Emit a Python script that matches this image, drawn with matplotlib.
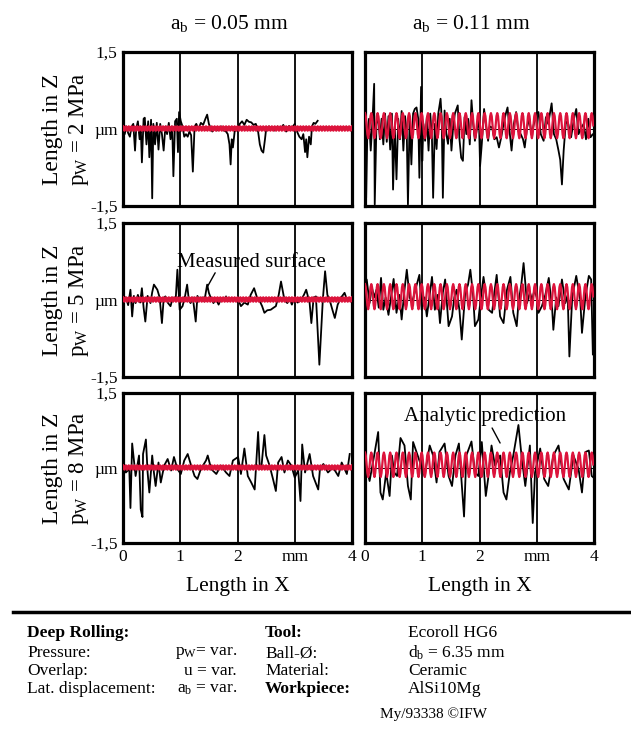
import numpy as np
import matplotlib
matplotlib.use("Agg")
import matplotlib.pyplot as plt
from matplotlib.lines import Line2D

plt.rcParams['font.family'] = ['Liberation Serif', 'DejaVu Serif']
plt.rcParams['mathtext.fontset'] = 'custom'
plt.rcParams['mathtext.rm'] = 'Liberation Serif'
plt.rcParams['mathtext.it'] = 'Liberation Serif:italic'

# ---- column / row settings
lat_disp = [0.05, 0.11]          # a_b in mm
pressures = [2, 5, 8]            # p_W in MPa

# ---- measured surface profiles (x in mm, z in um)
x_p2_a05 = [0.00, 0.03, 0.06, 0.09, 0.12, 0.15, 0.18, 0.21, 0.23, 0.26, 0.29, 0.31, 0.33, 0.36, 0.38,
            0.41, 0.44, 0.46, 0.49, 0.51, 0.53, 0.56, 0.59, 0.62, 0.65, 0.68, 0.71, 0.74, 0.77, 0.80,
            0.83, 0.86, 0.88, 0.91, 0.94, 0.96, 0.98, 1.01, 1.04, 1.07, 1.10, 1.13, 1.16, 1.19, 1.22,
            1.25, 1.28, 1.32, 1.36, 1.40, 1.44, 1.47, 1.50, 1.53, 1.56, 1.60, 1.64, 1.68, 1.72, 1.76,
            1.80, 1.83, 1.86, 1.88, 1.90, 1.92, 1.95, 2.00, 2.04, 2.08, 2.12, 2.16, 2.20, 2.24, 2.28,
            2.32, 2.36, 2.39, 2.42, 2.45, 2.48, 2.50, 2.55, 2.60, 2.65, 2.70, 2.75, 2.80, 2.85, 2.90,
            2.95, 3.00, 3.04, 3.08, 3.12, 3.15, 3.18, 3.20, 3.22, 3.25, 3.28, 3.30, 3.33, 3.36, 3.40]
z_p2_a05 = [-0.05, -0.10, 0.05, -0.08, -0.15, 0.05, 0.10, -0.42, 0.00, 0.15, -0.20, 0.05, -0.65, 0.20, 0.22,
            -0.30, 0.15, -0.55, 0.18, -1.35, 0.10, -0.30, 0.12, -0.40, 0.10, -0.10, -0.42, 0.05, -0.10, 0.12,
            -0.20, 0.05, -0.92, 0.15, 0.20, -0.45, 0.33, 0.15, 0.05, -0.15, -0.10, -0.15, -0.05, -0.12, -0.83,
            0.05, 0.10, 0.00, 0.12, 0.08, 0.20, 0.28, 0.10, 0.02, -0.05, 0.00, -0.03, 0.02, 0.05, -0.03,
            -0.05, -0.10, -0.30, -0.69, -0.20, -0.36, -0.05, 0.00, 0.10, 0.15, 0.08, 0.18, 0.14, 0.13, 0.08,
            0.10, -0.05, -0.30, -0.42, -0.46, -0.20, 0.00, 0.05, 0.02, -0.03, 0.05, 0.00, 0.08, -0.05, 0.06,
            0.02, 0.10, -0.05, -0.15, -0.20, -0.10, -0.45, -0.20, -0.55, -0.15, -0.30, 0.05, 0.12, 0.10, 0.16]

x_p2_a11 = [0.00, 0.02, 0.04, 0.07, 0.10, 0.13, 0.16, 0.17, 0.20, 0.23, 0.26, 0.29, 0.32, 0.35, 0.38,
            0.41, 0.44, 0.47, 0.49, 0.52, 0.55, 0.58, 0.61, 0.64, 0.67, 0.70, 0.73, 0.75, 0.78, 0.81,
            0.84, 0.87, 0.90, 0.93, 0.95, 0.98, 1.00, 1.02, 1.05, 1.08, 1.11, 1.14, 1.17, 1.19, 1.22,
            1.25, 1.28, 1.32, 1.34, 1.36, 1.39, 1.42, 1.45, 1.48, 1.51, 1.54, 1.57, 1.62, 1.65, 1.68,
            1.71, 1.74, 1.77, 1.80, 1.83, 1.86, 1.89, 1.92, 1.95, 1.99, 2.01, 2.04, 2.08, 2.11, 2.15,
            2.18, 2.22, 2.26, 2.30, 2.34, 2.38, 2.42, 2.46, 2.49, 2.53, 2.56, 2.60, 2.64, 2.68, 2.72,
            2.76, 2.79, 2.83, 2.87, 2.91, 2.95, 2.99, 3.03, 3.07, 3.12, 3.16, 3.20, 3.26, 3.30, 3.34,
            3.38, 3.41, 3.44, 3.47, 3.51, 3.55, 3.60, 3.65, 3.69, 3.73, 3.78, 3.82, 3.86, 3.90, 3.94,
            3.98, 4.00]
z_p2_a11 = [0.10, -1.34, -0.10, 0.20, -0.42, 0.15, 0.88, -1.47, 0.10, 0.25, -0.20, 0.20, -0.30, 0.30, -0.25,
            0.25, -0.40, 0.30, -1.18, 0.05, -0.98, 0.20, -0.20, 0.35, -0.42, 0.25, -0.10, -1.47, 0.20, -0.69,
            0.30, 0.39, 0.42, 0.20, -0.95, 0.82, -0.62, 0.10, -0.23, 0.23, -0.42, 0.30, -0.20, -1.34, 0.10,
            -0.39, 0.30, 0.59, 0.20, -1.34, 0.36, -0.10, -0.29, 0.20, -0.42, 0.05, 0.30, 0.46, -0.20, -0.56,
            -0.62, 0.23, -0.10, 0.20, -0.30, 0.56, 0.10, -0.23, -0.03, 0.20, -0.72, -0.29, 0.39, 0.10, -0.23,
            0.05, 0.03, -0.20, -0.16, -0.36, -0.16, 0.10, 0.30, 0.42, -0.10, -0.42, 0.10, 0.33, -0.05, -0.10,
            -0.20, -0.36, 0.03, 0.20, -0.10, 0.10, 0.30, 0.33, -0.10, -0.23, 0.23, 0.10, 0.50, -0.10, -0.20,
            -0.42, -0.60, -1.08, -0.42, 0.15, 0.10, -0.16, 0.20, 0.39, -0.10, 0.03, 0.10, -0.20, 0.20, -0.16,
            -0.10, -0.10]

x_p5_a05 = [0.00, 0.05, 0.09, 0.13, 0.16, 0.19, 0.22, 0.26, 0.30, 0.33, 0.36, 0.39, 0.43, 0.48, 0.51,
            0.54, 0.60, 0.64, 0.68, 0.71, 0.74, 0.78, 0.83, 0.87, 0.92, 0.95, 0.99, 1.04, 1.08, 1.12,
            1.15, 1.18, 1.22, 1.27, 1.30, 1.33, 1.38, 1.42, 1.47, 1.50, 1.53, 1.58, 1.62, 1.67, 1.71,
            1.76, 1.80, 1.84, 1.88, 1.94, 2.00, 2.06, 2.12, 2.18, 2.23, 2.29, 2.34, 2.38, 2.43, 2.47,
            2.52, 2.58, 2.63, 2.67, 2.72, 2.76, 2.82, 2.87, 2.91, 2.95, 2.99, 3.05, 3.11, 3.16, 3.20,
            3.26, 3.29, 3.33, 3.37, 3.43, 3.49, 3.53, 3.57, 3.61, 3.66, 3.70, 3.75, 3.81, 3.87, 3.92,
            3.96]
z_p5_a05 = [0.00, 0.05, -0.10, 0.20, -0.32, 0.08, -0.06, 0.10, -0.05, 0.23, -0.15, -0.42, 0.08, -0.06, 0.15,
            0.30, 0.20, 0.05, -0.45, 0.02, 0.07, -0.05, -0.12, 0.05, 0.00, 0.59, -0.19, -0.12, 0.05, 0.30,
            0.00, -0.06, 0.05, -0.42, 0.08, 0.00, 0.05, -0.03, 0.30, 0.14, 0.05, -0.06, 0.03, -0.09, 0.02,
            0.00, 0.07, -0.02, 0.00, 0.03, 0.04, -0.12, -0.05, -0.09, 0.10, 0.23, 0.05, 0.00, -0.12, -0.25,
            -0.20, -0.19, -0.15, -0.12, 0.10, 0.36, 0.00, -0.06, 0.02, -0.09, 0.03, -0.05, 0.00, 0.10, 0.20,
            -0.06, -0.45, 0.05, 0.07, -1.26, 0.00, 0.56, 0.10, 0.00, -0.20, -0.35, -0.09, 0.05, 0.14, -0.02,
            0.00]

x_p5_a11 = [0.00, 0.03, 0.08, 0.12, 0.16, 0.20, 0.24, 0.28, 0.32, 0.36, 0.41, 0.46, 0.50, 0.55, 0.60,
            0.64, 0.69, 0.73, 0.78, 0.82, 0.88, 0.95, 0.99, 1.04, 1.08, 1.13, 1.17, 1.22, 1.27, 1.31,
            1.36, 1.40, 1.46, 1.52, 1.56, 1.60, 1.65, 1.69, 1.75, 1.80, 1.84, 1.89, 1.92, 1.98, 2.03,
            2.07, 2.12, 2.16, 2.22, 2.26, 2.30, 2.36, 2.42, 2.48, 2.54, 2.59, 2.65, 2.68, 2.73, 2.77,
            2.83, 2.88, 2.92, 2.96, 3.00, 3.03, 3.09, 3.15, 3.21, 3.27, 3.29, 3.34, 3.38, 3.44, 3.50,
            3.54, 3.57, 3.62, 3.69, 3.76, 3.79, 3.85, 3.91, 3.95, 3.98]
z_p5_a11 = [0.10, 0.40, -0.06, 0.25, 0.05, 0.20, -0.15, 0.43, -0.19, 0.05, -0.29, 0.10, 0.41, -0.25, 0.10,
            -0.38, 0.20, 0.59, 0.05, -0.06, 0.20, 0.49, -0.19, 0.05, -0.32, 0.10, 0.45, -0.19, 0.10, -0.45,
            0.15, 0.40, -0.51, -0.32, 0.05, 0.20, -0.20, -0.77, 0.14, 0.30, 0.59, 0.07, -0.51, -0.38, 0.10,
            0.45, 0.05, -0.19, -0.25, 0.15, 0.49, -0.32, -0.45, 0.20, 0.45, -0.25, -0.51, -0.06, 0.30, 0.72,
            -0.06, 0.15, 0.00, 0.20, 0.05, -0.25, -0.12, 0.10, 0.43, -0.19, -0.58, 0.05, -0.12, 0.40, -0.06,
            0.10, -1.10, 0.07, 0.47, 0.00, -0.64, 0.07, 0.47, 0.40, -1.06]

x_p8_a05 = [0.00, 0.05, 0.11, 0.13, 0.16, 0.22, 0.28, 0.31, 0.34, 0.35, 0.40, 0.43, 0.46, 0.51, 0.54,
            0.57, 0.62, 0.66, 0.72, 0.78, 0.84, 0.89, 0.95, 1.01, 1.07, 1.13, 1.19, 1.25, 1.30, 1.36,
            1.45, 1.48, 1.54, 1.63, 1.71, 1.80, 1.86, 1.92, 2.01, 2.06, 2.12, 2.18, 2.24, 2.30, 2.36,
            2.39, 2.42, 2.47, 2.50, 2.56, 2.62, 2.67, 2.71, 2.77, 2.82, 2.88, 2.94, 3.00, 3.06, 3.10,
            3.13, 3.18, 3.26, 3.32, 3.41, 3.44, 3.50, 3.58, 3.67, 3.76, 3.82, 3.91, 3.96]
z_p8_a05 = [0.18, -0.09, -0.02, -0.80, 0.49, -0.16, 0.25, -0.83, -0.98, 0.28, 0.57, -0.09, -0.49, 0.25, -0.09,
            -0.36, 0.11, -0.29, 0.05, 0.18, -0.05, 0.22, -0.02, -0.12, 0.15, 0.28, 0.05, -0.16, -0.22, -0.02,
            0.15, 0.25, -0.02, -0.12, 0.05, -0.09, -0.16, 0.15, 0.22, -0.12, 0.39, -0.16, -0.29, -0.43, 0.72,
            -0.02, 0.05, 0.66, 0.25, 0.05, -0.22, -0.46, 0.11, 0.22, -0.09, 0.15, 0.05, -0.19, -0.05, -0.66,
            0.47, -0.09, 0.28, -0.16, -0.43, -0.02, 0.08, -0.09, 0.01, -0.16, 0.11, -0.12, 0.28]

x_p8_a11 = [0.02, 0.08, 0.16, 0.23, 0.27, 0.31, 0.37, 0.43, 0.47, 0.51, 0.56, 0.62, 0.69, 0.75, 0.80,
            0.84, 0.92, 0.98, 1.04, 1.13, 1.19, 1.25, 1.30, 1.39, 1.46, 1.52, 1.58, 1.64, 1.68, 1.73,
            1.77, 1.86, 1.92, 1.98, 2.04, 2.11, 2.15, 2.21, 2.27, 2.36, 2.42, 2.47, 2.53, 2.59, 2.68,
            2.74, 2.80, 2.88, 2.93, 2.97, 3.06, 3.13, 3.20, 3.29, 3.38, 3.47, 3.56, 3.64, 3.73, 3.79,
            3.85, 3.91, 3.96, 4.00]
z_p8_a11 = [0.05, -0.26, 0.25, 0.72, -0.49, -0.63, -0.09, -0.56, 0.25, -0.09, -0.16, 0.60, 0.45, -0.36, -0.63,
            0.52, 0.25, 0.05, -0.16, 0.45, 0.25, -0.29, 0.32, 0.49, -0.16, -0.36, 0.25, 0.49, -0.16, -0.97,
            0.25, 0.53, -0.09, -0.16, 0.52, -0.56, -0.22, 0.45, 0.05, 0.25, -0.49, -0.63, -0.09, 0.25, 0.86,
            0.18, -0.36, 0.45, -1.10, -0.09, 0.39, -0.22, -0.36, 0.25, 0.45, -0.22, -0.43, 0.25, -0.02, -0.49,
            0.32, 0.35, -0.16, -0.20]

measured = {
    (2, 0.05): (x_p2_a05, z_p2_a05), (2, 0.11): (x_p2_a11, z_p2_a11),
    (5, 0.05): (x_p5_a05, z_p5_a05), (5, 0.11): (x_p5_a11, z_p5_a11),
    (8, 0.05): (x_p8_a05, z_p8_a05), (8, 0.11): (x_p8_a11, z_p8_a11),
}

# ---- analytic prediction: one period of the profile (um), repeated every a_b
period_a05 = [0.05, 0.02, -0.03, 0.02]
period_a11 = [0.31, 0.25, 0.07, -0.10, -0.18, -0.10, 0.07, 0.25]
prediction_periods = {0.05: period_a05, 0.11: period_a11}

x_ticks = [0, 1, 2, 3, 4]
x_ticklabels = ['0', '1', '2', 'mm', '4']
y_ticks = [-1.5, 0, 1.5]
y_ticklabels = ['-1,5', 'µm', '1,5']

RED = '#dc143c'
W, H = 631, 741
fig = plt.figure(figsize=(W / 100, H / 100), dpi=100)

col_px = [(123, 352), (365, 594)]
row_px = [(52, 206), (223, 377), (393, 543)]

axes = {}
for r, p in enumerate(pressures):
    for c, a in enumerate(lat_disp):
        x0, x1 = col_px[c]
        y0, y1 = row_px[r]
        ax = fig.add_axes([x0 / W, 1 - y1 / H, (x1 - x0) / W, (y1 - y0) / H])
        axes[(p, a)] = ax

        xm, zm = measured[(p, a)]
        ax.axhline(0, color='black', lw=0.7, zorder=1)
        ax.plot(xm, zm, color='black', lw=1.3, zorder=2)

        per = prediction_periods[a]
        n = int(4.0 / a * len(per)) + 1
        xp = np.arange(n) * a / len(per)
        zp = np.tile(per, n // len(per) + 1)[:n]
        ax.plot(xp, zp, color=RED, lw=1.8 if a < 0.1 else 1.6, zorder=3)

        for gx in [1, 2, 3]:
            ax.axvline(gx, color='black', lw=1.3, zorder=0)

        ax.set_xlim(0, 4)
        ax.set_ylim(-1.5, 1.5)
        ax.set_xticks(x_ticks)
        ax.set_yticks(y_ticks)
        ax.tick_params(length=0, labelsize=12.5, pad=4)
        if r == len(pressures) - 1:
            ax.set_xticklabels(x_ticklabels)
            ax.set_xlabel('Length in X', fontsize=15.5, labelpad=9)
        else:
            ax.set_xticklabels([])
        if c == 0:
            ax.set_yticklabels(y_ticklabels)
            ax.text(-0.31, 0.5, 'Length in Z', rotation=90, ha='center', va='center',
                    fontsize=17, transform=ax.transAxes)
            ax.text(-0.192, 0.5, 'p$_{\\rm W}$ = %d MPa' % p, rotation=90, ha='center', va='center',
                    fontsize=16.5, transform=ax.transAxes)
        else:
            ax.set_yticklabels([])
        for s in ax.spines.values():
            s.set_linewidth(2.3)

# column titles
for c, a in enumerate(lat_disp):
    x0, x1 = col_px[c]
    fig.text((x0 + x1) / 2 / W - 8 / W, 1 - 23 / H, 'a$_{\\rm b}$ = %.2f mm' % a,
             ha='center', va='center', fontsize=15.5)

# annotations
ax = axes[(5, 0.05)]
ax.text(2.25, 0.74, 'Measured surface', ha='center', va='center', fontsize=15)
ax.annotate('', xy=(1.47, 0.25), xytext=(1.61, 0.53),
            arrowprops=dict(arrowstyle='-', color='black', lw=1.0, shrinkA=0, shrinkB=0))
ax = axes[(8, 0.11)]
ax.text(2.1, 1.02, 'Analytic prediction', ha='center', va='center', fontsize=15)
ax.annotate('', xy=(2.36, 0.5), xytext=(2.22, 0.8),
            arrowprops=dict(arrowstyle='-', color='black', lw=1.0, shrinkA=0, shrinkB=0))

# separator line
fig.add_artist(Line2D([13 / W, 1.0], [1 - 612 / H] * 2, color='black', lw=2.5))

# bottom info block
def ftext(x, y, s, **kw):
    fig.text(x / W, 1 - y / H, s, va='center', fontsize=12.5, **kw)

ftext(27, 633, 'Deep Rolling:', fontweight='bold')
ftext(27, 653, 'Pressure:')
ftext(27, 671, 'Overlap:')
ftext(27, 689, 'Lat. displacement:')
ftext(237, 653, 'p$_{\\rm W}$= var.', ha='right')
ftext(237, 671, 'u = var.', ha='right')
ftext(237, 689, 'a$_{\\rm b}$ = var.', ha='right')
ftext(265, 633, 'Tool:', fontweight='bold')
ftext(265, 653, 'Ball-Ø:')
ftext(265, 671, 'Material:')
ftext(265, 689, 'Workpiece:', fontweight='bold')
ftext(408, 633, 'Ecoroll HG6')
ftext(408, 653, 'd$_{\\rm b}$ = 6.35 mm')
ftext(408, 671, 'Ceramic')
ftext(408, 689, 'AlSi10Mg')
fig.text(380 / W, 1 - 714 / H, 'My/93338 ©IFW', va='center', fontsize=11)

fig.savefig('out.png', dpi=100)
